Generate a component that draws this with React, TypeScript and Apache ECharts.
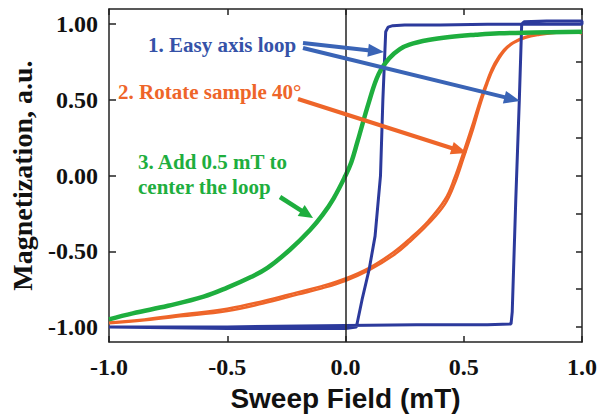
import React, { useEffect, useRef } from "react";
import * as echarts from "echarts";

// ---- data ----
const xTicks = [-1.0, -0.5, 0.0, 0.5, 1.0];
const yTicks = [-1.0, -0.5, 0.0, 0.5, 1.0];
const yMinorTicks = [-1.0, -0.75, -0.5, -0.25, 0.0, 0.25, 0.5, 0.75, 1.0];

// 1. Easy axis loop (closed path)
const blueX = [-1.0, -0.5, 0.0, 0.3, 0.6, 0.70, 0.705, 0.72, 0.735, 0.745, 0.755, 0.85, 1.0, 1.0, 0.85, 0.6, 0.4, 0.25, 0.2, 0.18, 0.17, 0.158, 0.148, 0.125, 0.10, 0.07, 0.046, 0.0, -0.5, -1.0];
const blueY = [-1.0, -1.0, -0.99, -0.985, -0.985, -0.98, -0.9, -0.16, 0.5, 1.0, 1.015, 1.02, 1.02, 1.0, 1.0, 1.0, 0.995, 0.995, 0.99, 0.98, 0.95, 0.5, 0.0, -0.40, -0.62, -0.82, -1.0, -1.01, -1.01, -1.0];

// 2. Rotate sample 40° (two branches)
const orangeX = [-1.0, -0.85, -0.7, -0.5, -0.35, -0.2, -0.1, 0.0, 0.1, 0.2, 0.27, 0.35, 0.42, 0.46, 0.5, 0.54, 0.57, 0.6, 0.63, 0.67, 0.71, 0.76, 0.82, 0.9, 0.95, 1.0];
const orangeUpY = [-0.97, -0.95, -0.92, -0.88, -0.83, -0.77, -0.73, -0.68, -0.61, -0.51, -0.42, -0.30, -0.16, -0.02, 0.16, 0.35, 0.50, 0.63, 0.74, 0.83, 0.88, 0.915, 0.935, 0.95, 0.95, 0.94];
const orangeDownY = [-0.975, -0.955, -0.93, -0.895, -0.845, -0.785, -0.745, -0.695, -0.625, -0.53, -0.44, -0.32, -0.19, -0.06, 0.12, 0.31, 0.47, 0.61, 0.72, 0.82, 0.875, 0.91, 0.93, 0.945, 0.95, 0.94];

// 3. Add 0.5 mT to center the loop
const greenX = [-1.0, -0.9, -0.75, -0.6, -0.5, -0.4, -0.33, -0.235, -0.15, -0.097, -0.05, 0.0, 0.025, 0.05, 0.1, 0.14, 0.185, 0.23, 0.27, 0.35, 0.44, 0.55, 0.65, 0.8, 1.0];
const greenY = [-0.95, -0.91, -0.86, -0.80, -0.74, -0.67, -0.61, -0.49, -0.36, -0.26, -0.15, 0.0, 0.09, 0.22, 0.49, 0.67, 0.775, 0.835, 0.865, 0.895, 0.915, 0.93, 0.94, 0.945, 0.95];

const BLUE = "#2c3a9c";
const BLUE_ARROW = "#3a64b6";
const BLUE_TEXT = "#3552a8";
const ORANGE = "#ee6529";
const GREEN = "#1eae3e";
const SERIF = "'Liberation Serif', 'Times New Roman', serif";
const SANS = "'Liberation Sans', Arial, sans-serif";

const zip = (xs: number[], ys: number[]) => xs.map((x, i) => [x, ys[i]]);

function arrow(x1: number, y1: number, x2: number, y2: number, color: string, w: number, hl: number, hw: number) {
  const dx = x2 - x1, dy = y2 - y1;
  const len = Math.sqrt(dx * dx + dy * dy);
  const ux = dx / len, uy = dy / len;
  const bx = x2 - ux * hl, by = y2 - uy * hl;
  const px = -uy, py = ux;
  return [
    { type: "line", shape: { x1, y1, x2: bx + ux * 2, y2: by + uy * 2 }, style: { stroke: color, lineWidth: w }, z: 10 },
    {
      type: "polygon",
      shape: { points: [[x2, y2], [bx + px * hw / 2, by + py * hw / 2], [bx - px * hw / 2, by - py * hw / 2]] },
      style: { fill: color }, z: 10,
    },
  ];
}

const labelFont = { fontFamily: SERIF, fontWeight: "bold" as const, fontSize: 24, color: "#111" };
const axisLine = { show: true, onZero: false, lineStyle: { color: "#222", width: 1.5 } };

export default function App() {
  const ref = useRef<HTMLDivElement>(null);
  useEffect(() => {
    if (!ref.current) return;
    const chart = echarts.init(ref.current, undefined, { renderer: "svg" });
    const txt = (text: string, x: number, y: number, fill: string) => ({
      type: "text", x, y, z: 11,
      style: { text, fill, font: `bold 21px ${SERIF}`, verticalAlign: "middle", align: "left" },
    });
    chart.setOption({
      animation: false,
      grid: { left: 108, top: 9, right: 16, bottom: 74 },
      xAxis: [
        {
          type: "value", min: -1, max: 1, interval: 0.5, position: "bottom",
          axisLine, splitLine: { show: false },
          axisTick: { inside: true, length: 6, lineStyle: { color: "#222", width: 1.5 } },
          axisLabel: { ...labelFont, margin: 13, formatter: (v: number) => v.toFixed(1) },
          name: "Sweep Field (mT)", nameLocation: "middle", nameGap: 40,
          nameTextStyle: { fontFamily: SANS, fontWeight: "bold", fontSize: 28, color: "#111" },
        },
        {
          type: "value", min: -1, max: 1, interval: 0.5, position: "top",
          axisLine, splitLine: { show: false },
          axisTick: { inside: true, length: 6, lineStyle: { color: "#222", width: 1.5 } },
          axisLabel: { show: false },
        },
      ],
      yAxis: [
        {
          type: "value", min: -1.1, max: 1.1, position: "left",
          axisLine, splitLine: { show: false },
          axisTick: { inside: true, length: 7, customValues: yTicks, lineStyle: { color: "#222", width: 1.5 } },
          axisLabel: { ...labelFont, margin: 11, customValues: yTicks, formatter: (v: number) => v.toFixed(2) },
          name: "Magnetization, a.u.", nameLocation: "middle", nameGap: 73,
          nameTextStyle: { fontFamily: SERIF, fontWeight: "bold", fontSize: 28, color: "#111" },
        },
        {
          type: "value", min: -1.1, max: 1.1, position: "right",
          axisLine, splitLine: { show: false },
          axisTick: { inside: true, length: 6, customValues: yMinorTicks, lineStyle: { color: "#222", width: 1.5 } },
          axisLabel: { show: false },
        },
      ],
      series: [
        {
          type: "line", data: [], xAxisIndex: 0, yAxisIndex: 0,
          markLine: {
            symbol: "none", silent: true, label: { show: false },
            lineStyle: { color: "#222", width: 1.5, type: "solid" },
            data: [{ xAxis: 0 }],
          },
        },
        { type: "line", data: zip(orangeX, orangeUpY), showSymbol: false, smooth: 0.4, lineStyle: { color: ORANGE, width: 2.5 } },
        { type: "line", data: zip(orangeX, orangeDownY), showSymbol: false, smooth: 0.4, lineStyle: { color: ORANGE, width: 2.5 } },
        { type: "line", data: zip(blueX, blueY), showSymbol: false, lineStyle: { color: BLUE, width: 3 } },
        { type: "line", data: zip(greenX, greenY), showSymbol: false, smooth: 0.4, lineStyle: { color: GREEN, width: 4.5 } },
      ],
      graphic: [
        txt("1. Easy axis loop", 148, 45, BLUE_TEXT),
        txt("2. Rotate sample 40°", 118, 92, ORANGE),
        txt("3. Add 0.5 mT to", 138, 162, GREEN),
        txt("center the loop", 138, 187, GREEN),
        ...arrow(303, 43, 384, 52, BLUE_ARROW, 4, 16, 13),
        ...arrow(303, 48, 520, 101, BLUE_ARROW, 4, 16, 13),
        ...arrow(298, 99, 467, 153, ORANGE, 4, 16, 13),
        ...arrow(280, 197, 313, 218, GREEN, 4.5, 14, 13),
      ],
    });
    return () => chart.dispose();
  }, []);
  return <div ref={ref} style={{ position: "absolute", left: 0, top: 0, width: 600, height: 417 }} />;
}
